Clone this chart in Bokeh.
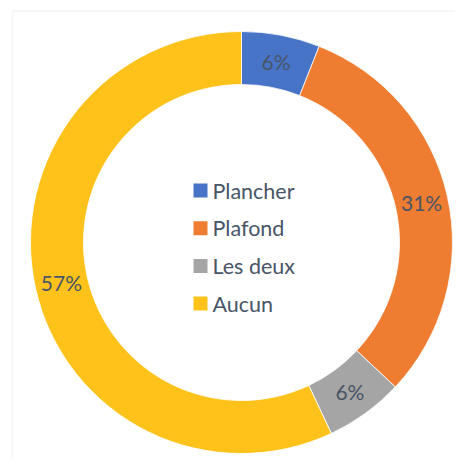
import numpy as np
from bokeh.plotting import figure
from bokeh.models import Range1d, BoxAnnotation, ColumnDataSource
from bokeh.core.properties import value
from bokeh.embed import file_html
from bokeh.resources import INLINE

categories = ["Plancher", "Plafond", "Les deux", "Aucun"]
shares = [6, 31, 6, 57]
labels = ["6%", "31%", "6%", "57%"]
colors = ["#4874C8", "#EE7D31", "#A5A5A5", "#FFC21A"]

W, H = 455, 459
cx, cy = 241, H - 242
r_in, r_out = 158, 211

p = figure(width=W, height=H, output_backend="svg", toolbar_location=None,
           x_range=Range1d(0, W), y_range=Range1d(0, H), min_border=0)
p.axis.visible = False
p.grid.visible = False
p.outline_line_color = None
p.background_fill_color = "white"
p.border_fill_color = "white"

# chart area frame
p.add_layout(BoxAnnotation(left=12, right=W + 20, top=H - 10.5, bottom=-20,
                           fill_color=None, line_color="#DCE1EA", line_width=2))

vals = np.array(shares, dtype=float)
frac = vals / vals.sum()
cum = np.concatenate([[0], np.cumsum(frac)])
start = np.pi / 2 - 2 * np.pi * cum[:-1]
end = np.pi / 2 - 2 * np.pi * cum[1:]
mid = (start + end) / 2
r_mid = (r_in + r_out) / 2

src = ColumnDataSource(dict(cat=categories, start=start, end=end, color=colors,
                            lx=cx + r_mid * np.cos(mid), ly=cy + r_mid * np.sin(mid),
                            label=labels))

p.annular_wedge(x=cx, y=cy, inner_radius=r_in, outer_radius=r_out,
                start_angle="start", end_angle="end", direction="clock",
                fill_color="color", line_color="white", line_width=0.8, source=src)

p.text(x="lx", y="ly", text="label", source=src, text_align="center",
       text_baseline="middle", text_font=value("Lato"), text_font_size="21px",
       text_color="#485467")

# legend in the centre
n = len(categories)
leg_x, leg_y0, leg_dy = 200, H - 190, 37.7
ly = leg_y0 - leg_dy * np.arange(n)
leg = ColumnDataSource(dict(x=[leg_x] * n, y=ly, tx=[leg_x + 12] * n,
                            cat=categories, color=colors))
p.rect(x="x", y="y", width=14, height=14, fill_color="color", line_color=None, source=leg)
p.text(x="tx", y="y", text="cat", source=leg, text_align="left", text_baseline="middle",
       text_font=value("Lato"), text_font_size="21.5px", text_color="#485467")

open("out.html", "w").write(file_html(p, INLINE))
